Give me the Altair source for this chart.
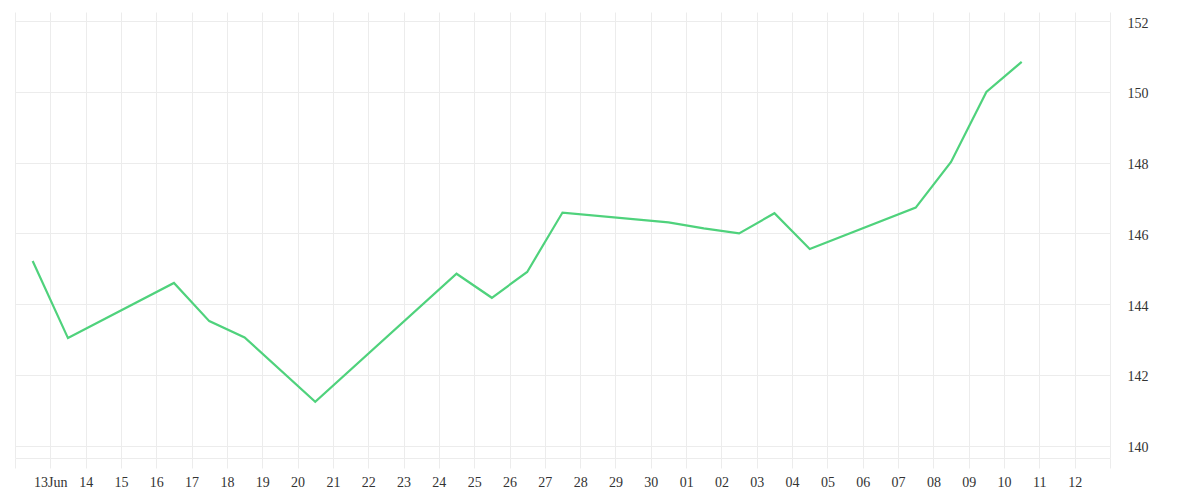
import json
import altair as alt
import pandas as pd

# ---- data ----
dates = ["2025-06-12", "2025-06-13", "2025-06-16", "2025-06-17", "2025-06-18",
         "2025-06-20", "2025-06-24", "2025-06-25", "2025-06-26", "2025-06-27",
         "2025-06-30", "2025-07-01", "2025-07-02", "2025-07-03", "2025-07-04",
         "2025-07-07", "2025-07-08", "2025-07-09", "2025-07-10"]
values = [145.22, 143.04, 144.60, 143.52, 143.06,
          141.24, 144.86, 144.18, 144.91, 146.59,
          146.31, 146.14, 146.00, 146.57, 145.56,
          146.73, 148.02, 150.00, 150.85]

tick_dates = [f"2025-06-{d:02d}" for d in range(12, 31)] + [f"2025-07-{d:02d}" for d in range(1, 14)]
tick_labels = ([""] + ["13Jun"] + [f"{d:02d}" for d in range(14, 31)]
               + [f"{d:02d}" for d in range(1, 13)] + [""])
y_ticks = [140, 142, 144, 146, 148, 150, 152]
y_domain = [139.65, 152.26]

# ---- build ----
df = pd.DataFrame({"date": [d + "T12:00:00" for d in dates], "value": values})


def dt(s):
    y, m, d = (int(p) for p in s.split("-"))
    return alt.DateTime(year=y, month=m, date=d)


tick_values = [dt(s) for s in tick_dates]
label_expr = (json.dumps(tick_labels)
              + "[round((datum.value - datetime(2025, 5, 12)) / 864e5)]")

FONT = "Liberation Serif"
GRID = "#ececec"

chart = alt.Chart(df).mark_line(color="#4fd27c", strokeWidth=2.2).encode(
    x=alt.X(
        "date:T",
        scale=alt.Scale(domain=[dt(tick_dates[0]), dt(tick_dates[-1])]),
        axis=alt.Axis(
            title=None,
            values=tick_values,
            labelExpr=label_expr,
            grid=True,
            gridColor=GRID,
            domain=True,
            domainColor=GRID,
            ticks=True,
            tickColor=GRID,
            tickSize=10,
            labelPadding=7,
            labelFont=FONT,
            labelFontSize=14,
            labelColor="#333333",
            labelOverlap=False,
            labelFlush=False,
        ),
    ),
    y=alt.Y(
        "value:Q",
        scale=alt.Scale(domain=y_domain, nice=False, zero=False),
        axis=alt.Axis(
            title=None,
            orient="right",
            values=y_ticks,
            grid=True,
            gridColor=GRID,
            domain=False,
            ticks=False,
            labelPadding=17,
            labelOffset=2,
            labelAlign="left",
            labelFont=FONT,
            labelFontSize=14,
            labelColor="#333333",
        ),
    ),
).properties(
    width=1095,
    height=446,
    autosize=alt.AutoSizeParams(type="none"),
    padding={"left": 7, "top": 4, "right": 70, "bottom": 40},
    background="white",
).configure_view(strokeWidth=0)

chart.save("out.html", embed_options={"renderer": "svg", "actions": False})
